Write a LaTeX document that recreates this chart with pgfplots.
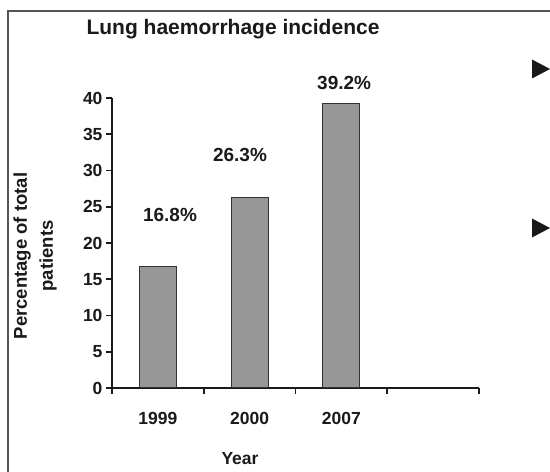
\documentclass[border=0pt]{standalone}
\usepackage{pgfplots}
\pgfplotsset{compat=1.18}
\usepackage{fontspec}
\setmainfont{Liberation Sans}
\definecolor{barfill}{HTML}{969696}
\definecolor{bardraw}{HTML}{333333}
\definecolor{txt}{HTML}{1A1A1A}
\definecolor{frame}{HTML}{555555}
\begin{document}
\begin{tikzpicture}[x=1pt,y=1pt]
\useasboundingbox (0,0) rectangle (550,472);
\fill[white] (0,0) rectangle (550,472);
\draw[frame, line width=1.3pt] (8,0) -- (8,461) -- (551,461);
\node[font=\bfseries\fontsize{21}{24}\selectfont, text=txt] at (233,443) {Lung haemorrhage incidence};
\node[font=\bfseries\fontsize{18.5}{26}\selectfont, text=txt, rotate=90, align=center] at (35,216) {Percentage of total\\patients};
\node[font=\bfseries\fontsize{17.5}{20}\selectfont, text=txt] at (240,13) {Year};
\fill[black!90] (532,412.5) -- (550,403) -- (532,393.5) -- cycle;
\fill[black!90] (532,253.5) -- (550,244) -- (532,234.5) -- cycle;
\begin{axis}[
  at={(112pt,84pt)}, anchor=south west,
  scale only axis, width=367pt, height=290pt,
  xmin=-0.5, xmax=3.5, ymin=0, ymax=40,
  clip=false,
  axis lines=left,
  axis line style={-, line width=1.7pt, txt},
  xtick={-0.5,0.5,1.5,2.5,3.5},
  x tick label as interval,
  xticklabels={1999,2000,2007,{}},
  ytick={0,5,...,40},
  tick align=outside,
  major tick length=6pt,
  tick style={line width=1.7pt, txt},
  /pgf/number format/assume math mode=true,
  ticklabel style={font=\bfseries\fontsize{17.5}{20}\selectfont, text=txt},
  xticklabel style={yshift=-15pt},
]
\addplot[ybar, bar width=37pt, bar shift=0pt, fill=barfill, draw=bardraw, line width=1pt]
  coordinates {(0,16.8) (1,26.3) (2,39.2)};
\addplot[draw=none, mark=none, nodes near coords, point meta=explicit symbolic,
  every node near coord/.append style={anchor=center, font=\bfseries\fontsize{19}{20}\selectfont, text=txt}]
  coordinates {(0.132,23.9) [16.8\%] (0.895,32.1) [26.3\%] (2.03,42.1) [39.2\%]};
\end{axis}
\end{tikzpicture}
\end{document}
